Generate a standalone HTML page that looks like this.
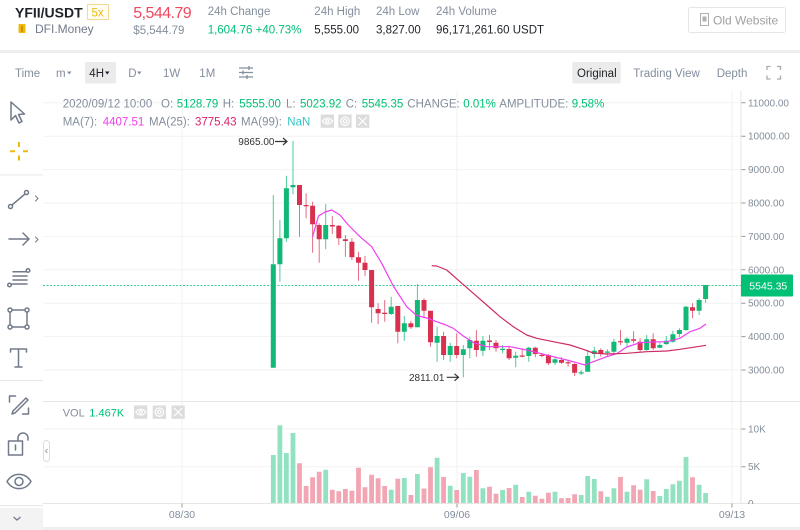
<!DOCTYPE html>
<html><head><meta charset="utf-8"><style>
html,body{margin:0;padding:0;background:#fff;width:800px;height:530px;overflow:hidden}
svg{display:block;font-family:"Liberation Sans",Arial,sans-serif}
</style></head><body>
<svg width="800" height="530" viewBox="0 0 800 530" xmlns="http://www.w3.org/2000/svg">
<rect width="800" height="530" fill="#fff"/>
<!-- HEADER -->
<text x="15" y="17.5" font-size="14" font-weight="bold" fill="#1e2329">YFII/USDT</text>
<rect x="87.5" y="4.5" width="21" height="15" fill="#fffdf4" stroke="#f5d98c" rx="1"/>
<text x="91.5" y="16.3" font-size="11.5" fill="#f0b90b">5x</text>
<rect x="18.5" y="24" width="7" height="9" fill="#f0b90b" rx="1"/><rect x="21" y="26" width="2" height="6" fill="#c99400"/>
<text x="35" y="33" font-size="12" fill="#707a8a">DFI.Money</text>
<text x="133.3" y="18" font-size="16" fill="#f0485f" textLength="58.4">5,544.79</text>
<text x="133.3" y="34" font-size="11.5" fill="#848e9c">$5,544.79</text>
<text x="207.7" y="15" font-size="11.5" fill="#848e9c">24h Change</text>
<text x="207.7" y="33.5" font-size="11.5" fill="#02c076">1,604.76 +40.73%</text>
<text x="314.3" y="15" font-size="11.5" fill="#848e9c">24h High</text>
<text x="314.3" y="33.5" font-size="11.5" fill="#1e2329">5,555.00</text>
<text x="376" y="15" font-size="11.5" fill="#848e9c">24h Low</text>
<text x="376" y="33.5" font-size="11.5" fill="#1e2329">3,827.00</text>
<text x="436" y="15" font-size="11.5" fill="#848e9c">24h Volume</text>
<text x="436" y="33.5" font-size="11.5" fill="#1e2329">96,171,261.60 USDT</text>
<rect x="688.5" y="7.5" width="97" height="25" fill="#fff" stroke="#e6e6e6" rx="2"/>
<rect x="700.5" y="13.5" width="8" height="12" fill="none" stroke="#b0b0b0"/><rect x="702.5" y="16.5" width="4" height="5" fill="#b0b0b0"/>
<text x="713" y="24.3" font-size="12" fill="#a0a0a0">Old Website</text>
<rect x="0" y="50" width="800" height="3" fill="#eeeeee"/>
<!-- TOOLBAR ROW -->
<rect x="85" y="62" width="31" height="21.5" fill="#ebebeb" rx="1"/>
<rect x="572.3" y="62" width="48.4" height="21.5" fill="#ebebeb" rx="1"/>
<g font-size="11.5">
<text x="15" y="77" fill="#848e9c">Time</text>
<text x="56" y="77" fill="#848e9c">m</text>
<text x="89.3" y="77" fill="#1e2329">4H</text>
<text x="128.3" y="77" fill="#848e9c">D</text>
<text x="163" y="77" fill="#848e9c">1W</text>
<text x="199.3" y="77" fill="#848e9c">1M</text>
<text x="577" y="77" fill="#1e2329">Original</text>
<text x="633.3" y="77" fill="#848e9c">Trading View</text>
<text x="716.7" y="77" fill="#848e9c">Depth</text>
</g>
<polygon points="67,71.5 71.5,71.5 69.25,74.5" fill="#848e9c"/>
<polygon points="105,71.5 109.5,71.5 107.25,74.5" fill="#1e2329"/>
<polygon points="137,71.5 141.5,71.5 139.25,74.5" fill="#848e9c"/>
<g stroke="#848e9c" stroke-width="1.3" fill="none">
<path d="M239 68h14M239 72.5h14M239 77h14M249 66v4M243 70.5v4M247 75v4"/>
<path d="M767 70v-3.5h3.5M780.5 70v-3.5H777M767 75.5V79h3.5M780.5 75.5V79H777" stroke="#aaa"/>
</g>
<!-- LEFT TOOLS -->
<g stroke="#707a8a" stroke-width="1.5" fill="none" stroke-linejoin="round" stroke-linecap="round">
<path d="M11 102V120l4.5-4.5 3.5 7.5 3-1.5-3.5-7 6-.5z"/>
<circle cx="10.5" cy="206.5" r="2"/><circle cx="26.5" cy="192.5" r="2"/><path d="M12 205L25 194"/>
<path d="M35.5 196l2.5 2.5-2.5 2.5" stroke-width="1"/>
<path d="M9 239h20M23 233l6 6-6 6"/>
<path d="M35.5 237l2.5 2.5-2.5 2.5" stroke-width="1"/>
<path d="M13 271.7h13M13 276h14M13 280h14M12 284h15"/><circle cx="28" cy="270.5" r="1.8"/><circle cx="9.5" cy="285" r="1.8"/>
<path d="M10 310h17v17H10z"/><circle cx="10" cy="310" r="2" fill="#fff"/><circle cx="27" cy="310" r="2" fill="#fff"/><circle cx="10" cy="327" r="2" fill="#fff"/><circle cx="27" cy="327" r="2" fill="#fff"/>
<path d="M10.5 352v-3h16v3M18.5 349v18M15 367h7"/>
<path d="M9.5 402v-6h6M28.5 408v6h-6M13 411l13-13 2 2-13 13-3 1z"/>
<path d="M8.5 441h14v14h-14zM18 441v-3a5 5 0 0 1 10 0v2M15.5 445v5"/>
<path d="M7 481.5c6-9.5 18-9.5 24 0-6 9.5-18 9.5-24 0z"/><circle cx="19" cy="481.5" r="4"/>
</g>
<g stroke="#f0b90b" stroke-width="2"><path d="M19 142v5M19 155.5v5M10 151.3h5M23 151.3h5"/></g>
<g fill="#e8e8e8"><rect x="0" y="174.5" width="43" height="1"/><rect x="0" y="380" width="43" height="1"/><rect x="0" y="505" width="43" height="1"/></g>
<rect x="0" y="508" width="43" height="22" fill="#f3f3f3"/>
<path d="M13.5 517l3.5 3 3.5-3" stroke="#707a8a" stroke-width="1.3" fill="none"/>
<!-- GRID -->
<g stroke="#f2f2f2" stroke-width="1">
<path d="M43 102.8H741M43 136.2H741M43 169.6H741M43 203H741M43 236.4H741M43 269.8H741M43 303.2H741M43 336.6H741M43 370H741M43 429H741M43 466.7H741"/>
<path d="M182 91V503M457 91V503M732 91V503"/>
</g>
<path d="M43 401.5H800M43 503.5H800" stroke="#e6e6e6"/>
<path d="M741 91V503" stroke="#e3e3e3"/>
<g stroke="#999" stroke-width="1"><path d="M741.5 102.8h4M741.5 136.2h4M741.5 169.6h4M741.5 203h4M741.5 236.4h4M741.5 269.8h4M741.5 303.2h4M741.5 336.6h4M741.5 370h4M741.5 429h4M741.5 466.7h4M182 503.5v4M457 503.5v4M732 503.5v4"/></g>
<g font-size="10" fill="#848e9c">
<text x="748" y="106.3">11000.00</text><text x="748" y="139.7">10000.00</text><text x="748" y="173.1">9000.00</text><text x="748" y="206.5">8000.00</text><text x="748" y="239.9">7000.00</text><text x="748" y="273.3">6000.00</text><text x="748" y="306.7">5000.00</text><text x="748" y="340.1">4000.00</text><text x="748" y="373.5">3000.00</text>
<text x="748" y="432.5">10K</text><text x="748" y="470.2">5K</text><text x="748" y="507">0</text>
</g>
<rect x="744" y="504" width="56" height="6" fill="#fff"/>
<g font-size="10.5" fill="#848e9c" text-anchor="middle"><text x="182" y="518">08/30</text><text x="457" y="518">09/06</text><text x="732" y="518">09/13</text></g>
<rect x="43" y="527" width="757" height="3" fill="#efefef"/>
<rect x="43.5" y="440.5" width="6" height="21" rx="3" fill="#fff" stroke="#ddd"/>
<path d="M47.5 449l-2 2 2 2" stroke="#888" fill="none" stroke-width="0.8"/>
<!-- VOLUME -->
<path fill="#92e2c2" d="M270.9 455h4.8V503h-4.8zM277.5 425.3h4.8V503h-4.8zM284 453h4.8V503h-4.8zM290.6 433h4.8V503h-4.8zM323.3 469.7h4.8V503h-4.8zM388.8 489.7h4.8V503h-4.8zM401.9 478h4.8V503h-4.8zM415 474h4.8V503h-4.8zM434.7 457.8h4.8V503h-4.8zM447.8 485.7h4.8V503h-4.8zM460.9 473h4.8V503h-4.8zM467.4 476.7h4.8V503h-4.8zM480.5 488.3h4.8V503h-4.8zM500.2 490h4.8V503h-4.8zM513.3 484.7h4.8V503h-4.8zM526.4 491.7h4.8V503h-4.8zM552.6 491.7h4.8V503h-4.8zM578.8 495h4.8V503h-4.8zM585.3 476h4.8V503h-4.8zM591.9 479h4.8V503h-4.8zM605 496.7h4.8V503h-4.8zM611.5 488.3h4.8V503h-4.8zM624.6 491.7h4.8V503h-4.8zM644.3 479.3h4.8V503h-4.8zM657.4 496h4.8V503h-4.8zM663.9 489h4.8V503h-4.8zM670.5 484.3h4.8V503h-4.8zM677 480.7h4.8V503h-4.8zM683.6 457h4.8V503h-4.8zM696.7 484.7h4.8V503h-4.8zM703.2 493h4.8V503h-4.8z"/>
<path fill="#f2a5b2" d="M297.1 463.3h4.8V503h-4.8zM303.7 486h4.8V503h-4.8zM310.2 477.3h4.8V503h-4.8zM316.8 471.7h4.8V503h-4.8zM329.9 489.7h4.8V503h-4.8zM336.4 491.3h4.8V503h-4.8zM343 489h4.8V503h-4.8zM349.5 490.7h4.8V503h-4.8zM356.1 467.7h4.8V503h-4.8zM362.6 487.3h4.8V503h-4.8zM369.2 474.7h4.8V503h-4.8zM375.7 478.3h4.8V503h-4.8zM382.3 486h4.8V503h-4.8zM395.4 478.7h4.8V503h-4.8zM408.5 495h4.8V503h-4.8zM421.6 488.5h4.8V503h-4.8zM428.1 467.2h4.8V503h-4.8zM441.2 477h4.8V503h-4.8zM454.3 490h4.8V503h-4.8zM474 470h4.8V503h-4.8zM487.1 486.7h4.8V503h-4.8zM493.6 493.7h4.8V503h-4.8zM506.7 488h4.8V503h-4.8zM519.8 497h4.8V503h-4.8zM532.9 495.7h4.8V503h-4.8zM539.5 498.7h4.8V503h-4.8zM546 492.7h4.8V503h-4.8zM559.1 498.3h4.8V503h-4.8zM565.7 498h4.8V503h-4.8zM572.2 494.3h4.8V503h-4.8zM598.4 491.3h4.8V503h-4.8zM618.1 477h4.8V503h-4.8zM631.2 485.3h4.8V503h-4.8zM637.7 489.7h4.8V503h-4.8zM650.8 491h4.8V503h-4.8zM690.1 477.3h4.8V503h-4.8z"/>
<!-- PRICE LINE -->
<path d="M43 285.5H741" stroke="#3fcf95" stroke-width="1" stroke-dasharray="2 1.5"/>
<rect x="741" y="274.5" width="52" height="22" fill="#02c076" rx="1"/>
<text x="749.3" y="289.3" font-size="10.5" fill="#fff">5545.35</text>
<!-- WICKS -->
<path stroke="#12b876" stroke-opacity="0.75" fill="none" d="M273.3 195V367.7M279.9 220V281.7M286.4 175.7V241.7M293 141V194.3M325.7 204V249.3M391.2 296.7V315M404.3 316V340.7M417.4 284V327.3M437.1 326.7V361.7M450.2 342.7V361.7M463.3 345V377.3M469.8 336.7V358.3M482.9 336V356M502.6 345V353.3M515.7 351.7V367.3M528.8 346.7V361.7M555 356.7V365M581.2 370V375M587.7 350V371.7M594.3 346.7V358.3M607.4 349.3V356M613.9 338.7V353.3M627 337.3V346.7M646.7 335V350.7M659.8 342.7V348.3M666.3 336V345M672.9 330.7V342.7M679.4 328.3V337.3M686 306V330.7M699.1 298.3V315M705.6 285V302.7"/>
<path stroke="#d9304f" stroke-opacity="0.7" fill="none" d="M299.5 185V236.7M306.1 193.3V218.3M312.6 201.7V252.7M319.2 223.3V262.7M332.3 216V234.3M338.8 225V245M345.4 235V256.7M351.9 238.3V260M358.5 251.7V280.7M365 256V276M371.6 270V322.7M378.1 303.3V324.3M384.7 300V321.7M397.8 306V343.3M410.9 320.7V329M424 298.3V318.3M430.5 310.7V346.7M443.6 331.7V360M456.7 333.3V358.3M476.4 330V356.7M489.5 335V350M496 340V351.7M509.1 345.7V360M522.2 349.3V357.3M535.3 346.7V357.3M541.9 353V357.5M548.4 354V365M561.5 357.3V364M568.1 360V366.7M574.6 363.3V376M600.8 348.3V356.7M620.5 330V345M633.6 331.3V343.3M640.1 338.3V351.7M653.2 333.3V350M692.5 303.3V318.3"/>
<!-- BODIES -->
<path fill="#12b876" d="M270.8 264.3h5v103.4h-5zM277.4 238.3h5v26h-5zM283.9 188.3h5v50h-5zM290.5 185h5v2.3h-5zM323.2 225h5v14.3h-5zM388.7 306.7h5v7.3h-5zM401.8 323.3h5v8.4h-5zM414.9 300h5v27.3h-5zM434.6 336h5v6.7h-5zM447.7 346h5v9h-5zM460.8 349.3h5v5.7h-5zM467.3 340h5v8.3h-5zM480.4 340.7h5v10h-5zM500.1 348.8h5v1.2h-5zM513.2 355.7h5v2h-5zM526.3 347.7h5v8.3h-5zM552.5 359.3h5v3.4h-5zM578.7 372.3h5v1.2h-5zM585.2 356h5v15.7h-5zM591.8 350.7h5v3.3h-5zM604.9 351.5h5v1.2h-5zM611.4 341.7h5v10h-5zM624.5 338.7h5v4h-5zM644.2 339.3h5v10.7h-5zM657.3 345h5v2.7h-5zM663.8 340.7h5v3.3h-5zM670.4 334.3h5v7.4h-5zM676.9 330h5v4h-5zM683.5 306.7h5v23.3h-5zM696.6 300h5v10.7h-5zM703.1 285h5v14h-5z"/>
<path fill="#d9304f" d="M297 185h5v20h-5zM303.6 205h5v1.3h-5zM310.1 205.7h5v18.6h-5zM316.7 225h5v14.3h-5zM329.8 225h5v1.5h-5zM336.3 225.7h5v12.6h-5zM342.9 239.3h5v1.7h-5zM349.4 241.7h5v15.6h-5zM356 257.3h5v5.4h-5zM362.5 262.7h5v7.3h-5zM369.1 270h5v37.3h-5zM375.6 309h5v4.3h-5zM382.2 312.7h5v1.3h-5zM395.3 306h5v25.7h-5zM408.4 323.3h5v4h-5zM421.5 300h5v10.7h-5zM428 310.7h5v31.6h-5zM441.1 336h5v19h-5zM454.2 346h5v9h-5zM473.9 340.7h5v9.3h-5zM487 340.5h5v1.5h-5zM493.5 342.7h5v5.6h-5zM506.6 349h5v9.3h-5zM519.7 355.5h5v1.2h-5zM532.8 347.7h5v6.3h-5zM539.4 354.8h5v1.2h-5zM545.9 355h5v8.3h-5zM559 360h5v2.7h-5zM565.6 362.2h5v1.2h-5zM572.1 364h5v8.7h-5zM598.3 350h5v4h-5zM618 341.2h5v1.2h-5zM631.1 339.3h5v1.4h-5zM637.6 341.7h5v8.3h-5zM650.7 339.3h5v9h-5zM690 307.3h5v3.4h-5z"/>
<!-- MA LINES -->
<polyline fill="none" stroke="#ee3fee" stroke-width="1.2" stroke-linejoin="round" points="312.6,236.7 318.5,216 325,212 331.7,210 340,215 348.3,225 360,236.7 371.7,246.7 381.7,263.3 393.3,286 406.7,306.7 416.7,315.5 426.7,318 436.7,321.7 446,325 453.3,328.3 463.3,336 473.3,342.5 486.7,346.7 500,346.7 510,346.7 526.7,350 540,353.3 553.3,356.7 566.7,360 576.7,362.7 585,365 593.3,361.7 606.7,356.7 617,353.5 626.7,347 640,342.7 653,342 666.7,341.7 680,338.3 690,331.7 700,328.3 706,324"/>
<polyline fill="none" stroke="#cf2a64" stroke-width="1.2" stroke-linejoin="round" points="431.7,265.7 436.7,266 446.7,270 460,281.7 473.3,293.3 486.7,305 500,316.7 513.3,326.7 526.7,335 536.7,338.3 553.3,341.7 570,345 583.3,349.3 593.3,353 606.7,354 626.7,353.3 646.7,351.7 666.7,351 680,349.3 693.3,347.3 706,345.3"/>
<!-- ANNOTATIONS -->
<text x="238.3" y="145" font-size="10" fill="#333">9865.00</text>
<path d="M275 141.5h12M283 138l4 3.5-4 3.5" stroke="#333" stroke-width="1.2" fill="none"/>
<text x="409" y="381" font-size="10" fill="#333">2811.01</text>
<path d="M446.7 377.3h12M454.5 373.8l4 3.5-4 3.5" stroke="#333" stroke-width="1.2" fill="none"/>
<!-- INFO -->
<g font-size="11.5" fill="#848e9c">
<text x="62.7" y="107.5">2020/09/12 10:00</text>
<text x="161" y="107.5">O:</text><text x="176.7" y="107.5" fill="#02c076">5128.79</text>
<text x="222.7" y="107.5">H:</text><text x="239.3" y="107.5" fill="#02c076">5555.00</text>
<text x="286" y="107.5">L:</text><text x="300" y="107.5" fill="#02c076">5023.92</text>
<text x="345.7" y="107.5">C:</text><text x="361.7" y="107.5" fill="#02c076">5545.35</text>
<text x="407.3" y="107.5">CHANGE:</text><text x="463.3" y="107.5" fill="#02c076">0.01%</text>
<text x="499.3" y="107.5">AMPLITUDE:</text><text x="571.7" y="107.5" fill="#02c076">9.58%</text>
<text x="62.7" y="125.3">MA(7):</text><text x="102.7" y="125.3" fill="#ee3fee">4407.51</text>
<text x="149" y="125.3">MA(25):</text><text x="195" y="125.3" fill="#d6246e">3775.43</text>
<text x="241" y="125.3">MA(99):</text><text x="287.3" y="125.3" fill="#35c3c3">NaN</text>
</g>
<g fill="#dcdcdc"><rect x="320.7" y="114.5" width="13.3" height="13.3"/><rect x="338.3" y="114.5" width="13.3" height="13.3"/><rect x="356" y="114.5" width="13.3" height="13.3"/></g>
<g stroke="#fff" stroke-width="1.2" fill="none"><path d="M322.5 121.2c3-4 7-4 10 0-3 4-7 4-10 0z"/><circle cx="327.4" cy="121.2" r="1.5"/><circle cx="345" cy="121.2" r="4.2"/><circle cx="345" cy="121.2" r="1.8"/><path d="M358.5 117l8.3 8.3M366.8 117l-8.3 8.3"/></g>
<text x="62.7" y="416.5" font-size="11" fill="#848e9c">VOL</text>
<text x="89.3" y="416.5" font-size="11" fill="#02c076">1.467K</text>
<g fill="#dcdcdc"><rect x="134" y="405.5" width="13.3" height="13.3"/><rect x="152.7" y="405.5" width="13.3" height="13.3"/><rect x="171.5" y="405.5" width="13.3" height="13.3"/></g>
<g stroke="#fff" stroke-width="1.2" fill="none"><path d="M135.8 412.2c3-4 7-4 10 0-3 4-7 4-10 0z"/><circle cx="140.7" cy="412.2" r="1.5"/><circle cx="159.4" cy="412.2" r="4.2"/><circle cx="159.4" cy="412.2" r="1.8"/><path d="M174 408l8.3 8.3M182.3 408l-8.3 8.3"/></g>
</svg>
</body></html>
